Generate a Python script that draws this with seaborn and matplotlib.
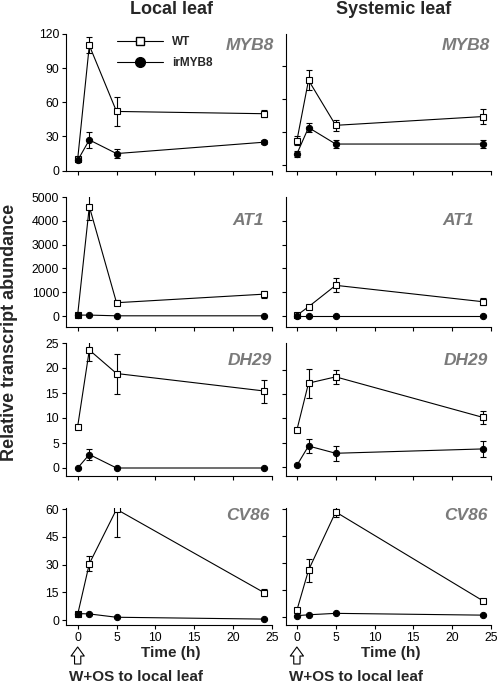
import matplotlib
matplotlib.use("Agg")
import matplotlib.pyplot as plt
from matplotlib.lines import Line2D
import seaborn as sns

# time points (h)
times = [0, 1.5, 5, 24]

genes = ["MYB8", "AT1", "DH29", "CV86"]

# local leaf: WT mean / error, irMYB8 mean / error
local_wt = [[10, 110, 52, 50], [50, 4600, 560, 920], [8.3, 23.6, 18.9, 15.4], [3, 30.5, 60, 14.8]]
local_wt_err = [[1.5, 7, 13, 3], [30, 550, 100, 150], [0.3, 2.2, 4, 2.3], [1, 4, 15, 2]]
local_ir = [[9, 27, 15, 25], [40, 40, 10, 10], [0, 2.7, 0, 0], [3.5, 3.3, 1.5, 0.5]]
local_ir_err = [[1, 7, 4, 1.5], [10, 10, 5, 5], [0, 1.1, 0, 0], [0.5, 0.5, 0.3, 0.3]]

# systemic leaf
sys_wt = [[22, 77, 36, 44], [30, 390, 1290, 600], [7.6, 17.3, 18.6, 10.2], [3.6, 26, 58.5, 8.8]]
sys_wt_err = [[4, 9, 5, 7], [30, 60, 290, 150], [0.3, 3, 1.5, 1.4], [0.5, 6.5, 3, 0.5]]
sys_ir = [[10, 34, 19, 19], [20, 20, 20, 20], [0.3, 4.3, 2.8, 3.7], [0.6, 1.1, 1.9, 0.9]]
sys_ir_err = [[2.5, 4, 4, 4], [5, 5, 5, 5], [0.2, 1.5, 1.6, 1.7], [0.3, 0.3, 0.3, 0.3]]

yticks = [[0, 30, 60, 90, 120], [0, 1000, 2000, 3000, 4000, 5000], [0, 5, 10, 15, 20, 25], [0, 15, 30, 45, 60]]
yticks_right = [[0, 30, 60, 90], [0, 1000, 2000, 3000, 4000], [0, 5, 10, 15, 20], [0, 15, 30, 45, 60]]
ylims_left = [(-0.3, 120), (-460, 5000), (-1.6, 25), (-2.7, 60.7)]
ylims_right = [(-5.5, 119), (-460, 5000), (-1.9, 25.6), (-4.6, 60.7)]
xticks = [0, 5, 10, 15, 20, 25]

sns.set_style("ticks")
plt.rcParams['font.family'] = ['Liberation Sans', 'DejaVu Sans']

W, H = 498, 684
fig = plt.figure(figsize=(W / 100, H / 100), dpi=100)

# rows in pixels (top, bottom)
rows = [(34, 171), (197, 327), (343, 476), (508, 625)]
cols = [(66, 272), (286, 491)]
label_tops = [38, 213, 353, 508]
label_right = [(274, 490), (264, 474), (272, 488), (270, 488)]

GRAY = "#7a7a7a"


def draw(ax, wt, wt_err, ir, ir_err):
    ax.errorbar(times, wt, yerr=wt_err, fmt="none", ecolor="black",
                elinewidth=0.8, capsize=2, capthick=0.8, zorder=2)
    ax.errorbar(times, ir, yerr=ir_err, fmt="none", ecolor="black",
                elinewidth=0.8, capsize=2, capthick=0.8, zorder=2)
    sns.lineplot(x=times, y=wt, ax=ax, color="black", linewidth=0.8,
                 marker="s", markersize=4.5, markerfacecolor="white",
                 markeredgecolor="black", markeredgewidth=0.8, zorder=3)
    sns.lineplot(x=times, y=ir, ax=ax, color="black", linewidth=0.8,
                 marker="o", markersize=4.5, markerfacecolor="black",
                 markeredgecolor="black", zorder=4)


for r, (top, bot) in enumerate(rows):
    for c, (x0, x1) in enumerate(cols):
        ax = fig.add_axes([x0 / W, 1 - bot / H, (x1 - x0) / W, (bot - top) / H])
        if c == 0:
            draw(ax, local_wt[r], local_wt_err[r], local_ir[r], local_ir_err[r])
            ax.set_xlim(-1.5, 25)
            ax.set_ylim(*ylims_left[r])
            ax.set_yticks(yticks[r])
        else:
            draw(ax, sys_wt[r], sys_wt_err[r], sys_ir[r], sys_ir_err[r])
            ax.set_xlim(-1.4, 25)
            ax.set_ylim(*ylims_right[r])
            ax.set_yticks(yticks_right[r])
            ax.set_yticklabels([])
        ax.set_xticks(xticks)
        if r < 3:
            ax.set_xticklabels([])
        ax.set_xlabel("")
        ax.set_ylabel("")
        sns.despine(ax=ax)
        for s in ("left", "bottom"):
            ax.spines[s].set_linewidth(0.8)
            ax.spines[s].set_color("black")
        ax.tick_params(length=3, width=0.8, pad=2, labelsize=8.8, colors="black")

        fig.text(label_right[r][c] / W, 1 - label_tops[r] / H, genes[r],
                 ha="right", va="top", fontsize=12.5, fontweight="bold",
                 fontstyle="italic", color=GRAY)

        if r == 0 and c == 0:
            handles = [
                Line2D([], [], color="black", lw=0.8, marker="s", markersize=6,
                       markerfacecolor="white", markeredgecolor="black"),
                Line2D([], [], color="black", lw=0.8, marker="o", markersize=7,
                       markerfacecolor="black"),
            ]
            ax.legend(handles, ["WT", "irMYB8"], loc="upper left",
                      bbox_to_anchor=(117 / W, 1 - 36 / H),
                      bbox_transform=fig.transFigure, frameon=False,
                      handlelength=3.9, handletextpad=0.75, labelspacing=0.75,
                      borderpad=0, borderaxespad=0,
                      prop={"weight": "bold", "size": 8.5})

        if r == 3:
            # open arrow marking treatment time
            ax.annotate("", xy=(0, 1 - 647 / H), xycoords=("data", "figure fraction"),
                        xytext=(0, 1 - 664 / H), textcoords=("data", "figure fraction"),
                        arrowprops=dict(arrowstyle="simple,head_length=0.65,head_width=0.95,tail_width=0.45",
                                        fc="white", ec="black", lw=0.8,
                                        shrinkA=0, shrinkB=0, mutation_scale=10),
                        annotation_clip=False)
            cx = (x0 + x1) / 2
            fig.text((cx + 2) / W, 1 - 653 / H, "Time (h)", ha="center", va="center",
                     fontsize=11, fontweight="bold")
            fig.text((cx - 33) / W, 1 - 677 / H, "W+OS to local leaf", ha="center",
                     va="center", fontsize=11, fontweight="bold")

fig.text(171 / W, 1 - 9 / H, "Local leaf", ha="center", va="center",
         fontsize=13, fontweight="bold")
fig.text(394 / W, 1 - 9 / H, "Systemic leaf", ha="center", va="center",
         fontsize=13, fontweight="bold")
fig.text(10 / W, 1 - 332 / H, "Relative transcript abundance", rotation=90,
         ha="center", va="center", fontsize=13, fontweight="bold")

fig.savefig("out.png", dpi=100)
